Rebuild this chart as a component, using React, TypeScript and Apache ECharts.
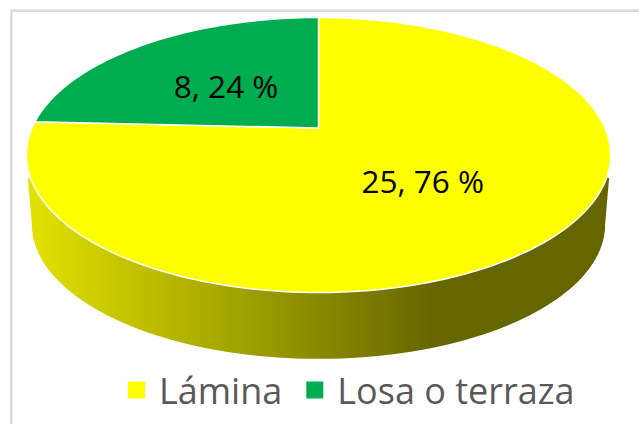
import React, { useEffect, useRef } from "react";
import * as echarts from "echarts";

const categories = ["Lámina", "Losa o terraza"];
const counts = [25, 8];
const percents = [76, 24];
const colors = ["#FFFF00", "#00AD4E"];

const APEX_X = 318.5;
const APEX_Y = 128;
const TILT = 0.1964;
const RX = 286.5;
const RY = 132.2;
const DEPTH = 70;
const LOWER_SX = 0.981;
const LOWER_SY = 0.978;
const FONT = "Open Sans";

const rad = (d: number) => (d * Math.PI) / 180;

function project(deg: number, r = 1, sx = 1, sy = 1, dy = 0): [number, number] {
  const u = r * Math.sin(rad(deg));
  const v = r * Math.cos(rad(deg));
  const w = 1 + TILT * v;
  return [APEX_X + (sx * RX * u) / w, APEX_Y - (sy * RY * v) / w + dy];
}

function sweep(from: number, to: number, fn: (deg: number) => [number, number]) {
  const n = Math.max(2, Math.ceil(Math.abs(to - from) / 1.5));
  const out: [number, number][] = [];
  for (let i = 0; i <= n; i++) out.push(fn(from + ((to - from) * i) / n));
  return out;
}

const total = counts.reduce((a, b) => a + b, 0);

function sliceRange(index: number) {
  const before = counts.slice(0, index).reduce((a, b) => a + b, 0);
  return [(before / total) * 360, ((before + counts[index]) / total) * 360];
}

function renderSlice(index: number) {
  return () => {
    const [start, end] = sliceRange(index);
    const children: any[] = [];
    const frontFrom = Math.max(start, 110.6);
    const frontTo = Math.min(end, 249.4);
    if (frontTo > frontFrom) {
      const topRim = sweep(frontFrom, frontTo, (d) => project(d));
      const lowRim = sweep(258.7, 101.3, (d) => project(d, 1, LOWER_SX, LOWER_SY, DEPTH));
      const first = topRim[0];
      const last = topRim[topRim.length - 1];
      children.push({
        type: "polygon",
        shape: {
          points: [
            [first[0] + 2.5, first[1]],
            ...topRim,
            [last[0] - 2.5, last[1]],
            ...lowRim,
          ],
        },
        style: {
          fill: new echarts.graphic.LinearGradient(0, 0, 1, 0, [
            { offset: 0, color: "#E2E200" },
            { offset: 0.7, color: "#666600" },
            { offset: 1, color: "#666600" },
          ]),
          stroke: "none",
        },
      });
    }
    children.push({
      type: "polygon",
      shape: { points: [[APEX_X, APEX_Y], ...sweep(start, end, (d) => project(d))] },
      style: { fill: colors[index], stroke: "#FFFFFF", lineWidth: 1.5, lineJoin: "miter" },
    });
    const [lx, ly] = project((start + end) / 2, 0.495);
    children.push({
      type: "text",
      x: lx - 1,
      y: ly + 1.5,
      style: {
        text: `${counts[index]}, ${percents[index]} %`,
        fill: "#000000",
        font: `31.5px "${FONT}"`,
        align: "center",
        verticalAlign: "middle",
      },
    });
    return { type: "group", children };
  };
}

export default function App() {
  const ref = useRef<HTMLDivElement>(null);
  useEffect(() => {
    document.body.style.margin = "0";
    const chart = echarts.init(ref.current!, null, { renderer: "svg" });
    chart.setOption({
      animation: false,
      backgroundColor: "#FFFFFF",
      graphic: [
        {
          type: "polyline",
          silent: true,
          shape: { points: [[11.3, 424], [11.3, 10.6], [639, 10.6]] },
          style: { fill: "none", stroke: "#DCDCDC", lineWidth: 2.6 },
        },
      ],
      legend: {
        left: 123,
        top: 367,
        itemWidth: 17,
        itemHeight: 17,
        itemGap: 24,
        icon: "rect",
        selectedMode: false,
        data: categories.map((name, i) => ({ name, itemStyle: { color: colors[i] } })),
        textStyle: {
          color: "#595959",
          fontFamily: FONT,
          fontSize: 36,
          padding: [0, 0, 2, 9],
        },
      },
      series: categories.map((name, i) => ({
        type: "custom",
        name,
        coordinateSystem: "none",
        silent: true,
        itemStyle: { color: colors[i] },
        data: [[counts[i]]],
        renderItem: renderSlice(i),
      })),
    });
    return () => chart.dispose();
  }, []);
  return <div ref={ref} style={{ width: 639, height: 424 }} />;
}
